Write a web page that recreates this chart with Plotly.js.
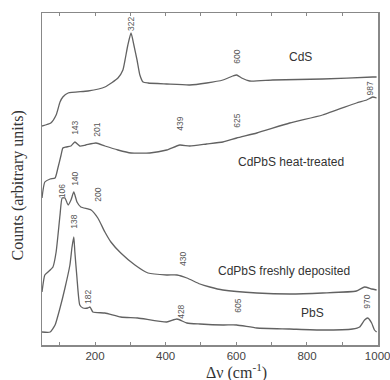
<!DOCTYPE html>
<html><head><meta charset="utf-8">
<script src="https://cdn.plot.ly/plotly-3.0.1.min.js"></script>
<style>html,body{margin:0;padding:0;background:#fff}</style>
</head><body><div id="chart" style="width:390px;height:380px"></div>
<script>
// Raman spectra (arbitrary units), wavenumber in cm^-1
const cdsX = [50,75,90,101,109,124,180,228,265,279,285,293,302,310,319,327,336,350,403,468,516,562,590,601,615,638,703,844,986,997];
const cdsY = [219,222,230,243,248,252,254,258,267,275,285,300,312,300,285,270,263,262,261,260,262,265,269,270,267,264,265,266,268,268];

const heatX = [50,58,73,87,95,104,109,118,132,143,157,174,203,228,265,302,355,403,440,468,516,562,601,658,751,844,940,969,986,997];
const heatY = [147,163,166,167,177,190,197,198,199,203,199,200,202,199,195,192,192,195,200,199,201,203,207,212,222,230,242,245,248,247];

const freshX = [50,58,67,81,90,101,107,115,124,132,140,149,160,189,208,228,245,273,313,350,403,432,460,497,525,562,658,751,844,940,963,983,997];
const freshY = [53,70,73,78,93,130,147,147,140,145,153,143,138,135,127,113,103,92,80,72,70,70,67,61,58,55,52,51,52,54,58,56,55];

const pbsX = [50,73,87,101,115,129,135,140,143,149,157,166,180,186,194,228,273,321,403,432,460,497,562,601,658,751,844,929,949,963,972,983,991,997];
const pbsY = [13,13,20,37,57,80,98,108,93,67,40,37,37,38,33,32,28,27,23,26,22,21,20,20,17,16,15,16,18,25,27,22,15,13];

// peak labels: [text, x, y]
const peakLabels = [
  ['322',302,321],['600',601,288],
  ['143',143,217],['201',205,215],['439',440,221],['625',601,224],['987',977,256],
  ['106',107,154],['140',143,166],['200',208,150],['430',449,86],
  ['138',140,123],['182',180,48],['428',443,33],['605',604,39],['970',969,43]
];
// sample names: [text, x, y]
const sampleLabels = [
  ['CdS',782,288],['CdPbS heat-treated',754,183],['CdPbS freshly deposited',734,74],['PbS',816,32]
];

const lineStyle = {color:'#626262', width:1.3, shape:'spline', smoothing:0.5};
const traces = [[cdsX,cdsY],[heatX,heatY],[freshX,freshY],[pbsX,pbsY]].map(p=>({
  x:p[0], y:p[1], type:'scatter', mode:'lines', line:lineStyle, hoverinfo:'skip'
}));

const annotations = [];
peakLabels.forEach(l=>annotations.push({x:l[1],y:l[2],xref:'x',yref:'y',text:l[0],showarrow:false,
  textangle:-90,font:{family:'Arial, Liberation Sans',size:8.5,color:'#555'}}));
sampleLabels.forEach(l=>annotations.push({x:l[1],y:l[2],xref:'x',yref:'y',text:l[0],showarrow:false,
  font:{family:'Arial, Liberation Sans',size:12,color:'#333'}}));
annotations.push({xref:'paper',yref:'paper',x:-0.072,y:0.48,xanchor:'center',yanchor:'middle',
  text:'Counts (arbitrary units)',textangle:-90,
  showarrow:false,font:{family:'Liberation Serif, Times New Roman, serif',size:16,color:'#333'}});
annotations.push({xref:'paper',yref:'paper',x:0.58,y:-0.08,xanchor:'center',yanchor:'middle',
  text:'Δν (cm<sup>-1</sup>)',
  showarrow:false,font:{family:'Liberation Serif, Times New Roman, serif',size:16,color:'#333'}});

const layout = {
  width:390, height:380,
  margin:{l:42,r:12,t:13,b:35},
  showlegend:false,
  paper_bgcolor:'#fff', plot_bgcolor:'#fff',
  xaxis:{range:[50,1001], tick0:0, dtick:200, ticks:'inside', ticklen:3, ticklabeloverflow:'allow',
    minor:{tick0:0, dtick:100, ticks:'inside', ticklen:3, tickcolor:'#888'},
    tickcolor:'#888', showline:true, linecolor:'#888', linewidth:1.5, mirror:'ticks',
    showgrid:false, zeroline:false, tickfont:{family:'Arial, Liberation Sans',size:11.5,color:'#444'}},
  yaxis:{range:[0,332], showline:true, linecolor:'#888', linewidth:1.5, mirror:true,
    showticklabels:false, ticks:'', showgrid:false, zeroline:false},
  annotations:annotations
};
Plotly.newPlot('chart', traces, layout, {staticPlot:true, displayModeBar:false});
</script></body></html>
